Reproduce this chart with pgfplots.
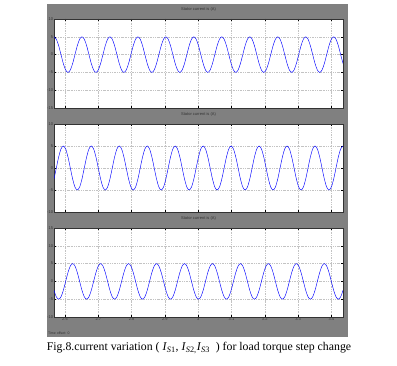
\documentclass[border=0pt]{standalone}
\usepackage{pgfplots}
\usepackage{pgfplotstable}
\pgfplotsset{compat=1.18}
\usepackage{fontspec}
\setmainfont{Liberation Serif}
\newfontfamily\scopefont{Liberation Sans}
\definecolor{scopegray}{RGB}{128,128,128}
\definecolor{wave}{RGB}{140,140,255}
\definecolor{gridc}{RGB}{195,195,195}

\pgfplotstableread{
x a b c
2.567 5 -2.5 -2.5
2.574 4.33 0 -4.33
2.581 2.5 2.5 -5
2.588 0 4.33 -4.33
2.595 -2.5 5 -2.5
2.602 -4.33 4.33 0
2.609 -5 2.5 2.5
2.616 -4.33 0 4.33
2.623 -2.5 -2.5 5
2.630 0 -4.33 4.33
2.637 2.5 -5 2.5
2.644 4.33 -4.33 0
2.651 5 -2.5 -2.5
2.658 4.33 0 -4.33
2.665 2.5 2.5 -5
2.672 0 4.33 -4.33
2.679 -2.5 5 -2.5
2.686 -4.33 4.33 0
2.693 -5 2.5 2.5
2.700 -4.33 0 4.33
2.707 -2.5 -2.5 5
2.714 0 -4.33 4.33
2.721 2.5 -5 2.5
2.728 4.33 -4.33 0
2.735 5 -2.5 -2.5
2.742 4.33 0 -4.33
2.749 2.5 2.5 -5
2.756 0 4.33 -4.33
2.763 -2.5 5 -2.5
2.770 -4.33 4.33 0
2.777 -5 2.5 2.5
2.784 -4.33 0 4.33
2.791 -2.5 -2.5 5
2.798 0 -4.33 4.33
2.805 2.5 -5 2.5
2.812 4.33 -4.33 0
2.819 5 -2.5 -2.5
2.826 4.33 0 -4.33
2.833 2.5 2.5 -5
2.840 0 4.33 -4.33
2.847 -2.5 5 -2.5
2.854 -4.33 4.33 0
2.861 -5 2.5 2.5
2.868 -4.33 0 4.33
2.875 -2.5 -2.5 5
2.882 0 -4.33 4.33
2.889 2.5 -5 2.5
2.896 4.33 -4.33 0
2.903 5 -2.5 -2.5
2.910 4.33 0 -4.33
2.917 2.5 2.5 -5
2.924 0 4.33 -4.33
2.931 -2.5 5 -2.5
2.938 -4.33 4.33 0
2.945 -5 2.5 2.5
2.952 -4.33 0 4.33
2.959 -2.5 -2.5 5
2.966 0 -4.33 4.33
2.973 2.5 -5 2.5
2.980 4.33 -4.33 0
2.987 5 -2.5 -2.5
2.994 4.33 0 -4.33
3.001 2.5 2.5 -5
3.008 0 4.33 -4.33
3.015 -2.5 5 -2.5
3.022 -4.33 4.33 0
3.029 -5 2.5 2.5
3.036 -4.33 0 4.33
3.043 -2.5 -2.5 5
3.050 0 -4.33 4.33
3.057 2.5 -5 2.5
3.064 4.33 -4.33 0
3.071 5 -2.5 -2.5
3.078 4.33 0 -4.33
3.085 2.5 2.5 -5
3.092 0 4.33 -4.33
3.099 -2.5 5 -2.5
3.106 -4.33 4.33 0
3.113 -5 2.5 2.5
3.120 -4.33 0 4.33
3.127 -2.5 -2.5 5
3.134 0 -4.33 4.33
3.141 2.5 -5 2.5
3.148 4.33 -4.33 0
3.155 5 -2.5 -2.5
3.162 4.33 0 -4.33
3.169 2.5 2.5 -5
3.176 0 4.33 -4.33
3.183 -2.5 5 -2.5
3.190 -4.33 4.33 0
3.197 -5 2.5 2.5
3.204 -4.33 0 4.33
3.211 -2.5 -2.5 5
3.218 0 -4.33 4.33
3.225 2.5 -5 2.5
3.232 4.33 -4.33 0
3.239 5 -2.5 -2.5
3.246 4.33 0 -4.33
3.253 2.5 2.5 -5
3.260 0 4.33 -4.33
3.267 -2.5 5 -2.5
3.274 -4.33 4.33 0
3.281 -5 2.5 2.5
3.288 -4.33 0 4.33
3.295 -2.5 -2.5 5
3.302 0 -4.33 4.33
3.309 2.5 -5 2.5
3.316 4.33 -4.33 0
3.323 5 -2.5 -2.5
3.330 4.33 0 -4.33
3.337 2.5 2.5 -5
3.344 0 4.33 -4.33
3.351 -2.5 5 -2.5
3.358 -4.33 4.33 0
3.365 -5 2.5 2.5
3.372 -4.33 0 4.33
3.379 -2.5 -2.5 5
3.386 0 -4.33 4.33
3.393 2.5 -5 2.5
3.400 4.33 -4.33 0
3.407 5 -2.5 -2.5
3.414 4.33 0 -4.33
3.421 2.5 2.5 -5
3.428 0 4.33 -4.33
3.435 -2.5 5 -2.5
}\currents

\pgfplotsset{
  scope/.style={
    scale only axis, width=289pt,
    xmin=2.567, xmax=3.435,
    xtick={2.6,2.7,2.8,2.9,3.0,3.1,3.2,3.3,3.4},
    grid=major,
    major grid style={dash pattern=on 1.2pt off 1pt on 0.4pt off 1pt, gridc, line width=0.4pt},
    axis line style={black!80, line width=0.5pt},
    axis background/.style={fill=white},
    major tick length=2pt,
    tick style={black, line width=0.3pt},
    tick label style={font=\scopefont\fontsize{4}{4.5}\selectfont, text=black!80, inner sep=0.8pt},
    /pgf/number format/assume math mode=true,
    title style={font=\scopefont\fontsize{4}{4.5}\selectfont, text=black!80, inner sep=1pt},
    every axis plot/.append style={wave, line width=0.45pt, smooth, no markers},
  }
}

\begin{document}
\begin{tikzpicture}
\useasboundingbox (0pt,0pt) rectangle (397pt,365pt);
\fill[scopegray] (47pt,28pt) rectangle (348pt,361pt);
\begin{axis}[scope, at={(54pt,257pt)}, anchor=south west, height=89pt,
  ymin=-15, ymax=10, ytick={-15,-10,-5,0,5,10}, xticklabels={},
  title={Stator current is (A)}]
  \addplot table[x=x,y=a] {\currents};
\end{axis}
\begin{axis}[scope, at={(54pt,153pt)}, anchor=south west, height=88pt,
  ymin=-10, ymax=10, ytick={-10,-5,0,5,10}, xticklabels={},
  title={Stator current is (A)}]
  \addplot table[x=x,y=b] {\currents};
\end{axis}
\begin{axis}[scope, at={(54pt,48pt)}, anchor=south west, height=89pt,
  ymin=-10, ymax=15, ytick={-10,-5,0,5,10,15},
  xticklabels={2.6,2.7,2.8,2.9,3,3.1,3.2,3.3,3.4},
  title={Stator current is (A)}]
  \addplot table[x=x,y=c] {\currents};
\end{axis}
\node[anchor=west, font=\scopefont\fontsize{3.5}{4}\selectfont, text=black!80, inner sep=0pt] at (48pt,32pt) {Time offset: 0};
\node[font=\fontsize{11.8}{13}\selectfont, inner sep=0pt] at (199pt,17pt)
  {Fig.8.current variation ( \textit{I}\textsubscript{\textit{S}1}, \textit{I}\textsubscript{\textit{S}2,}\textit{I}\textsubscript{\textit{S}3}\ \ ) for load torque step change};
\end{tikzpicture}
\end{document}
